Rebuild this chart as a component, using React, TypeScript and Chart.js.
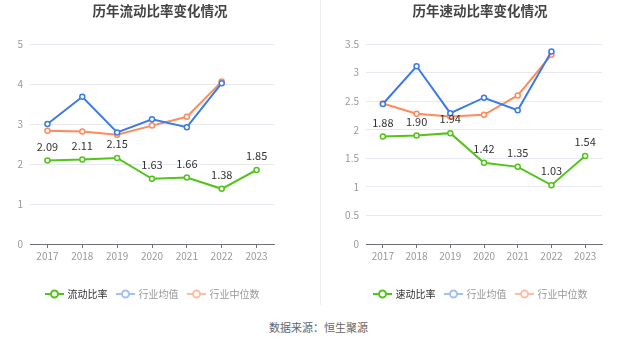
import React, { useEffect, useRef } from "react";
import { Chart, registerables } from "chart.js";

Chart.register(...registerables);

const years = ["2017", "2018", "2019", "2020", "2021", "2022", "2023"];

const currentRatio = [2.09, 2.11, 2.15, 1.63, 1.66, 1.38, 1.85];
const currentIndustryAvg = [3.0, 3.68, 2.79, 3.12, 2.92, 4.02, null];
const currentIndustryMedian = [2.83, 2.81, 2.73, 2.96, 3.18, 4.06, null];

const quickRatio = [1.88, 1.9, 1.94, 1.42, 1.35, 1.03, 1.54];
const quickIndustryAvg = [2.45, 3.11, 2.29, 2.56, 2.34, 3.37, null];
const quickIndustryMedian = [2.46, 2.28, 2.23, 2.26, 2.6, 3.31, null];

const GREEN = "#52c41a";
const BLUE = "#3d7ae5";
const ORANGE = "#ff8a5b";
const FONT = "'Noto Sans CJK SC', 'Noto Sans', sans-serif";

const labelPlugin = {
  id: "valueLabels",
  afterDatasetsDraw(chart: any) {
    const ctx = chart.ctx;
    const meta = chart.getDatasetMeta(0);
    const data = chart.data.datasets[0].data as number[];
    ctx.save();
    ctx.font = `11px ${FONT}`;
    ctx.fillStyle = "#333";
    ctx.textAlign = "center";
    ctx.textBaseline = "middle";
    meta.data.forEach((pt: any, i: number) => {
      if (data[i] == null) return;
      ctx.fillText(data[i].toFixed(2), pt.x, pt.y - 14);
    });
    ctx.restore();
  },
};

type PanelProps = {
  left: number;
  width: number;
  title: string;
  mainName: string;
  main: (number | null)[];
  avg: (number | null)[];
  median: (number | null)[];
  yMax: number;
  yStep: number;
  plotLeft: number;
  plotRight: number;
  legendCenter: number;
  titleCenter: number;
};

function Panel(p: PanelProps) {
  const ref = useRef<HTMLCanvasElement>(null);
  useEffect(() => {
    if (!ref.current) return;
    const ds = (label: string, data: any[], color: string) => ({
      label,
      data,
      borderColor: color,
      backgroundColor: "#fff",
      borderWidth: 2,
      pointRadius: 2.5,
      pointBorderWidth: 1.5,
      pointBackgroundColor: "#fff",
      pointBorderColor: color,
      tension: 0,
      spanGaps: false,
    });
    const chart = new Chart(ref.current, {
      type: "line",
      data: {
        labels: years,
        datasets: [
          ds(p.mainName, p.main, GREEN),
          ds("行业均值", p.avg, BLUE),
          ds("行业中位数", p.median, ORANGE),
        ],
      },
      options: {
        animation: false,
        responsive: false,
        maintainAspectRatio: false,
        layout: {
          padding: { top: 44, bottom: 46, left: 0, right: p.width - p.plotRight },
        },
        plugins: { legend: { display: false }, title: { display: false }, tooltip: { enabled: false } },
        scales: {
          x: {
            offset: true,
            border: { display: true, color: "#6e7079", width: 1 },
            grid: { display: true, drawOnChartArea: false, drawTicks: true, tickLength: 4, offset: false, color: "#6e7079" },
            ticks: { color: "#999", font: { size: 10, family: FONT }, padding: 2, maxRotation: 0 },
            afterFit(s: any) {
              s.height = 20;
            },
          },
          y: {
            min: 0,
            max: p.yMax,
            border: { display: false },
            grid: { color: "#e6e9f2", drawTicks: false },
            ticks: {
              stepSize: p.yStep,
              color: "#999",
              font: { size: 10, family: FONT },
              padding: 7,
              callback: (v: any) => String(Math.round(Number(v) * 100) / 100),
            },
            afterFit(s: any) {
              s.width = p.plotLeft;
            },
          },
        },
      } as any,
      plugins: [labelPlugin],
    });
    return () => chart.destroy();
  }, []);

  const legendItem = (color: string, text: string, textColor: string) => (
    <div style={{ display: "flex", alignItems: "center", marginRight: 8 }}>
      <svg width="19" height="10" style={{ marginRight: 4 }}>
        <line x1="0" y1="5" x2="19" y2="5" stroke={color} strokeWidth="2" />
        <circle cx="9.5" cy="5" r="3.5" fill="#fff" stroke={color} strokeWidth="2" />
      </svg>
      <span style={{ color: textColor, fontSize: 10, fontFamily: FONT }}>{text}</span>
    </div>
  );

  return (
    <div style={{ position: "absolute", left: p.left, top: 0, width: p.width, height: 310 }}>
      <canvas ref={ref} width={p.width} height={310} style={{ position: "absolute", left: 0, top: 0 }} />
      <div
        style={{
          position: "absolute",
          top: 0,
          left: p.titleCenter - 100,
          width: 200,
          textAlign: "center",
          fontFamily: FONT,
          fontWeight: "bold",
          fontSize: 13.5,
          color: "#444",
        }}
      >
        {p.title}
      </div>
      <div
        style={{
          position: "absolute",
          top: 286,
          left: p.legendCenter - 150,
          width: 300,
          display: "flex",
          justifyContent: "center",
        }}
      >
        {legendItem(GREEN, p.mainName, "#333")}
        {legendItem("#a3bff4", "行业均值", "#999")}
        {legendItem("#ffbca3", "行业中位数", "#999")}
      </div>
    </div>
  );
}

export default function App() {
  return (
    <div style={{ position: "fixed", left: 0, top: 0, width: 637, height: 344, background: "#fff", overflow: "hidden" }}>
      <Panel
        left={0}
        width={320}
        title="历年流动比率变化情况"
        mainName="流动比率"
        main={currentRatio}
        avg={currentIndustryAvg}
        median={currentIndustryMedian}
        yMax={5}
        yStep={1}
        plotLeft={30}
        plotRight={274}
        legendCenter={156}
        titleCenter={160}
      />
      <div style={{ position: "absolute", left: 320, top: 0, width: 1, height: 305, background: "#eee" }} />
      <Panel
        left={320}
        width={317}
        title="历年速动比率变化情况"
        mainName="速动比率"
        main={quickRatio}
        avg={quickIndustryAvg}
        median={quickIndustryMedian}
        yMax={3.5}
        yStep={0.5}
        plotLeft={46}
        plotRight={282}
        legendCenter={164}
        titleCenter={160}
      />
      <div
        style={{
          position: "absolute",
          top: 319,
          left: 0,
          width: 637,
          textAlign: "center",
          fontFamily: FONT,
          fontSize: 11,
          color: "#666",
        }}
      >
        数据来源：恒生聚源
      </div>
    </div>
  );
}
